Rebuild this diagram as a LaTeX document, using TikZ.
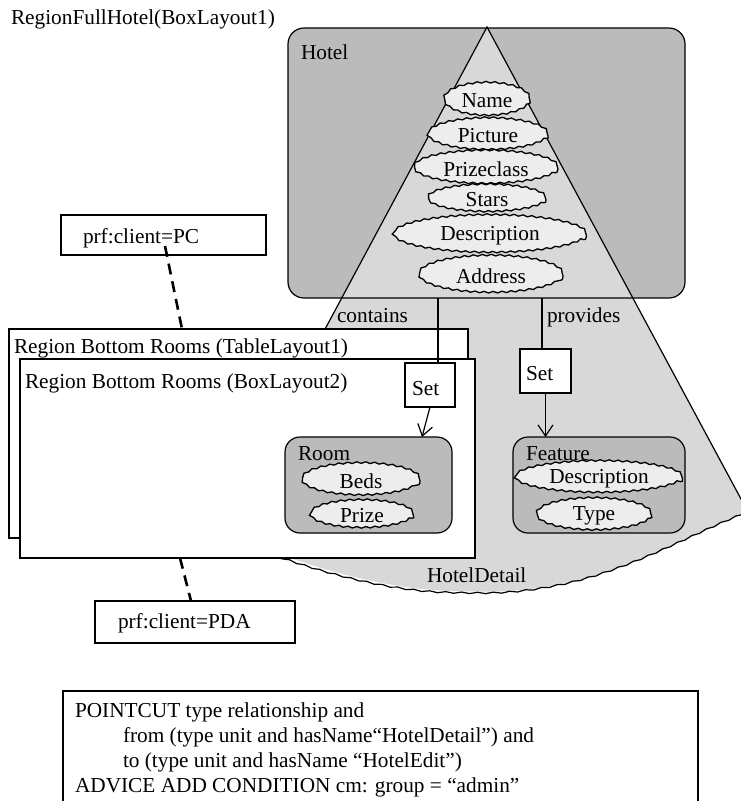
\documentclass[tikz,border=0pt]{standalone}
\usepackage{fontspec}
\setmainfont{Liberation Serif}
\usetikzlibrary{shapes.geometric,decorations.pathmorphing,arrows.meta,calc}
\definecolor{hotelgray}{HTML}{BBBBBB}
\definecolor{conegray}{HTML}{D8D8D8}
\definecolor{attrfill}{HTML}{EDEDED}
\begin{document}
\begin{tikzpicture}[x=1pt,y=-1pt,line width=1.2pt,
  font=\fontsize{21.3}{25}\selectfont,
  every node/.style={inner sep=0pt,outer sep=0pt},
  attr/.style={ellipse,draw,fill=attrfill,line width=1.3pt,decorate,
    decoration={snake,segment length=9pt,amplitude=0.8pt}},
  entity/.style={draw,fill=hotelgray,rounded corners=15pt,anchor=north west},
  plainbox/.style={draw,fill=white,rectangle,anchor=north west},
  lbl/.style={anchor=base west},
  dashedconn/.style={line width=2.6pt,dash pattern=on 11pt off 7pt},
  arr/.style={-{Straight Barb[length=11pt,width=15pt]}}]
\useasboundingbox (0,0) rectangle (741,801);
\clip (0,0) rectangle (741,801);

% Hotel background
\fill[hotelgray,rounded corners=16pt] (288,28) rectangle (685,298);
% HotelDetail cone
\fill[conegray] (487,27) -- (748,512)
  .. controls (700,530) and (640,566) .. (570,582)
  .. controls (520,593) and (490,592) .. (452,591)
  .. controls (400,590) and (340,575) .. (293,559)
  .. controls (260,549) and (232,543) .. (212,540) -- cycle;
\draw (212,540) -- (487,27) -- (748,512);
\draw[decorate,decoration={snake,segment length=16pt,amplitude=0.7pt}]
  (748,512)
  .. controls (700,530) and (640,566) .. (570,582)
  .. controls (520,593) and (490,592) .. (452,591)
  .. controls (400,590) and (340,575) .. (293,559)
  .. controls (260,549) and (232,543) .. (212,540);
\node[draw,rounded corners=16pt,anchor=north west,minimum width=397pt,minimum height=270pt] (hotel) at (288,28) {};

\node[lbl] (title) at (11,24) {RegionFullHotel(BoxLayout1)};
\node[lbl] (hotellbl) at (301,59) {Hotel};

% attributes of Hotel
\node[attr,minimum width=86pt,minimum height=33pt] (name) at (487,101) {Name};
\node[attr,minimum width=120pt,minimum height=32pt] (picture) at (488,136) {Picture};
\node[attr,minimum width=144pt,minimum height=33pt] (prize) at (486,169) {Prizeclass};
\node[attr,minimum width=118pt,minimum height=27pt] (stars) at (487,200) {Stars};
\node[attr,minimum width=193pt,minimum height=38pt] (descr) at (490,236) {Description};
\node[attr,minimum width=144pt,minimum height=37pt] (address) at (491,276) {Address};

% relationship labels
\node[lbl] (contains) at (337,322) {contains};
\node[lbl] (provides) at (547,322) {provides};
\node[lbl] (detail) at (427,582) {HotelDetail};

% regions
\node[plainbox,minimum width=459pt,minimum height=209pt] (table) at (9,329) {};
\node[lbl] (tablelbl) at (14,353) {Region Bottom Rooms (TableLayout1)};
\node[plainbox,minimum width=455pt,minimum height=199pt] (boxtwo) at (20,359) {};
\node[lbl] (boxtwolbl) at (25,388) {Region Bottom Rooms (BoxLayout2)};

% Set boxes and links
\coordinate (cL) at (438,298);
\coordinate (cR) at (542,298);
\node[plainbox,minimum width=50pt,minimum height=44pt] (setL) at (405,363) {};
\node[lbl] (setLlbl) at (412,395) {Set};
\node[plainbox,minimum width=51pt,minimum height=44pt] (setR) at (520,349) {};
\node[lbl] (setRlbl) at (526,380) {Set};
\draw (cL) -- (cL |- setL.north);
\draw (cR) -- (cR |- setR.north);

% Room
\node[entity,minimum width=167pt,minimum height=96pt] (room) at (285,437) {};
\node[lbl] (roomlbl) at (298,460) {Room};
\node[attr,minimum width=118pt,minimum height=32pt] (beds) at (361,481) {Beds};
\node[attr,minimum width=103pt,minimum height=28pt] (rprize) at (362,516) {Prize};

% Feature
\node[entity,minimum width=172pt,minimum height=96pt] (feature) at (513,437) {};
\node[lbl] (featurelbl) at (526,460) {Feature};
\node[attr,minimum width=167pt,minimum height=32pt] (fdescr) at (599,479) {Description};
\node[attr,minimum width=115pt,minimum height=32pt] (ftype) at (594,516) {Type};

\draw[arr] (setL.south) -- ([xshift=-8pt]setL.south |- room.north);
\draw[arr] (setR.south) -- (setR.south |- feature.north);

% client profiles
\node[plainbox,minimum width=205pt,minimum height=40pt] (pc) at (61,215) {};
\node[lbl] (pclbl) at (83,243) {prf:client=PC};
\node[plainbox,minimum width=200pt,minimum height=42pt] (pda) at (95,601) {};
\node[lbl] (pdalbl) at (118,628) {prf:client=PDA};
\coordinate (pcend) at (165,246);
\coordinate (xa) at (182,0);
\coordinate (xb) at (180,0);
\coordinate (xc) at (191,0);
\draw[dashedconn] (pcend) -- (xa |- table.north);
\draw[dashedconn] (xb |- boxtwo.south) -- (xc |- pda.north);

% pointcut
\node[plainbox,minimum width=635pt,minimum height=140pt] (pointcut) at (63,691) {};
\node[lbl] (pc1) at (75,717) {POINTCUT type relationship and};
\node[lbl] (pc2) at (123,742) {from (type unit and hasName“HotelDetail”) and};
\node[lbl] (pc3) at (123,767) {to (type unit and hasName “HotelEdit”)};
\node[lbl] (pc4) at (75,792) {ADVICE ADD CONDITION cm: group = “admin”};
\end{tikzpicture}
\end{document}
